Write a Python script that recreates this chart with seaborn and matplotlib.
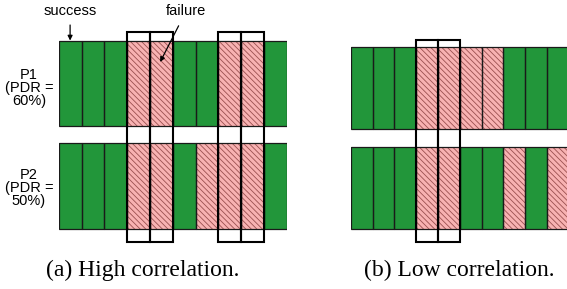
import numpy as np
import matplotlib
matplotlib.use("Agg")
import matplotlib.pyplot as plt
import seaborn as sns

# Esiti per slot: 1 = successo, 0 = fallimento
slots = np.arange(10)
p1_high = [1, 1, 1, 0, 0, 1, 1, 0, 0, 1]
p2_high = [1, 1, 1, 0, 0, 1, 0, 0, 0, 1]
p1_low = [1, 1, 1, 0, 0, 0, 0, 1, 1, 1]
p2_low = [1, 1, 1, 0, 0, 1, 1, 0, 1, 0]
boxes_high = [3, 4, 7, 8]
boxes_low = [3, 4]
row_labels = ["P1\n(PDR =\n60%)", "P2\n(PDR =\n50%)"]
captions = ["(a) High correlation.", "(b) Low correlation."]

sns.set_style("white")
plt.rcParams['font.family'] = ['Liberation Sans', 'DejaVu Sans']
plt.rcParams['text.color'] = 'black'
plt.rcParams['hatch.linewidth'] = 0.6

GREEN = "#22963a"
PINK = "#f8b2b2"
HATCH = "#9a5050"
W, H = 567, 289

fig = plt.figure(figsize=(5.67, 2.89), dpi=100)


def draw_panel(rect, rows, boxes, gap, ylim):
    ax = fig.add_axes(rect)
    bottoms = [1 + gap, 0]
    for vals, b in zip(rows, bottoms):
        vals = np.array(vals)
        ok = slots[vals == 1]
        ko = slots[vals == 0]
        ax.bar(ok, 1, bottom=b, width=1, align='edge', color=GREEN, lw=0)
        ax.bar(ko, 1, bottom=b, width=1, align='edge', color=PINK,
               edgecolor=HATCH, hatch="\\" * 6, lw=0)
        ax.bar(slots, 1, bottom=b, width=1, align='edge', fill=False,
               edgecolor="#1a1a1a", lw=0.9)
    ax.bar(boxes, ylim[1] - ylim[0], bottom=ylim[0], width=1, align='edge',
           fill=False, edgecolor="black", lw=1.5, clip_on=False)
    ax.set_xlim(0, 10)
    ax.set_ylim(*ylim)
    ax.axis('off')
    return ax


ax1 = draw_panel([58.7 / W, 47 / H, 228 / W, 210 / H],
                 [p1_high, p2_high], boxes_high, 0.2, (-0.15, 2.3))
ax2 = draw_panel([350.7 / W, 47 / H, 218 / W, 202 / H],
                 [p1_low, p2_low], boxes_low, 0.22, (-0.159, 2.305))

# Etichette delle righe
fig.text(29 / W, 1 - 88 / H, row_labels[0], ha='center', va='center',
         fontsize=10.5, linespacing=0.95)
fig.text(29 / W, 1 - 188 / H, row_labels[1], ha='center', va='center',
         fontsize=10.5, linespacing=0.95)

# Annotazioni
ax1.annotate("success", xy=(0.5, 2.2), xytext=(0.5, 2.55), ha='center',
             va='center', fontsize=10.5, annotation_clip=False,
             arrowprops=dict(arrowstyle='-|>', color='black', lw=0.9,
                             mutation_scale=7, shrinkA=3, shrinkB=0))
ax1.annotate("failure", xy=(4.45, 1.95), xytext=(5.6, 2.55), ha='center',
             va='center', fontsize=10.5, annotation_clip=False,
             arrowprops=dict(arrowstyle='-|>', color='black', lw=0.9,
                             mutation_scale=7, shrinkA=4, shrinkB=0))

# Didascalie
fig.text(143 / W, 1 - 270 / H, captions[0], ha='center', va='center',
         fontsize=17, family=['Liberation Serif', 'DejaVu Serif'])
fig.text(459 / W, 1 - 270 / H, captions[1], ha='center', va='center',
         fontsize=17, family=['Liberation Serif', 'DejaVu Serif'])

fig.savefig("out.png", dpi=100)
